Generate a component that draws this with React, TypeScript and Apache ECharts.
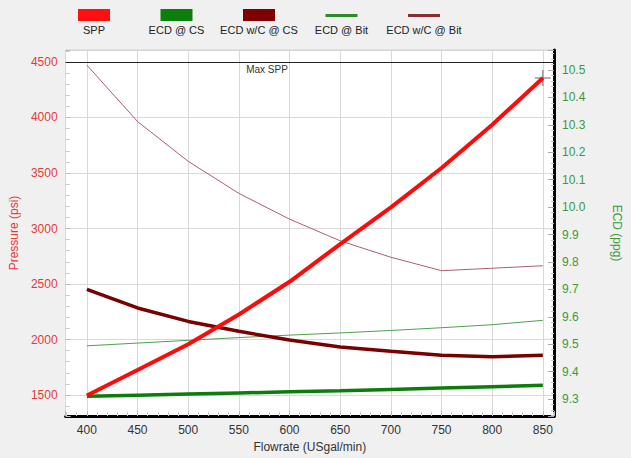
import React, { useEffect, useRef } from "react";
import * as echarts from "echarts";

const flowrate = [400, 450, 500, 550, 600, 650, 700, 750, 800, 850];
const spp = [1495, 1725, 1958, 2225, 2520, 2860, 3190, 3545, 3935, 4355];
const ecdCs = [9.31, 9.314, 9.318, 9.322, 9.326, 9.33, 9.335, 9.34, 9.345, 9.35];
const ecdWcCs = [9.7, 9.632, 9.583, 9.547, 9.515, 9.49, 9.474, 9.46, 9.454, 9.46];
const ecdBit = [9.494, 9.504, 9.514, 9.524, 9.533, 9.541, 9.55, 9.56, 9.571, 9.587];
const ecdWcBit = [10.518, 10.312, 10.167, 10.05, 9.956, 9.877, 9.817, 9.768, 9.777, 9.786];
const maxSpp = 4500;

const seriesNames = ["SPP", "ECD @ CS", "ECD w/C @ CS", "ECD @ Bit", "ECD w/C @ Bit"];
const seriesColors = ["#ff0a0a", "#0b7d0b", "#7a0000", "#4f9f4f", "#a8606e"];
const legendColors = ["#ff1010", "#0b7f0b", "#7f0000", "#2f8a2f", "#8b2a35"];
const seriesWidths = [4, 3.5, 3.5, 1, 1];

const FONT = "Liberation Sans, Arial, sans-serif";

export default function App() {
  const ref = useRef<HTMLDivElement>(null);
  useEffect(() => {
    if (!ref.current) return;
    const chart = echarts.init(ref.current, null, { renderer: "svg" });
    const pair = (ys: number[]) => flowrate.map((x, i) => [x, ys[i]]);
    const dataSets = [spp, ecdCs, ecdWcCs, ecdBit, ecdWcBit];
    const yIdx = [0, 1, 1, 1, 1];

    const legendGraphics: any[] = [];
    seriesNames.forEach((name, i) => {
      const cx = 94 + i * 82.5;
      const thick = i < 3;
      legendGraphics.push({
        type: "rect",
        shape: { x: cx - 16, y: thick ? 9 : 14, width: 32, height: thick ? 12 : 3 },
        style: { fill: legendColors[i] },
      });
      legendGraphics.push({
        type: "text",
        x: cx,
        y: 30,
        style: {
          text: name,
          align: "center",
          verticalAlign: "middle",
          fontSize: 11,
          fontFamily: FONT,
          fill: "#222",
        },
      });
    });
    legendGraphics.push({
      type: "text",
      x: 267,
      y: 69,
      style: {
        text: "Max SPP",
        align: "center",
        verticalAlign: "middle",
        fontSize: 10,
        fontFamily: FONT,
        fill: "#333",
      },
    });

    const series: any[] = [];
    const order = [4, 3, 1, 2, 0];
    order.forEach((i) => {
      const s: any = {
        name: seriesNames[i],
        type: "line",
        yAxisIndex: yIdx[i],
        data: pair(dataSets[i]),
        showSymbol: false,
        symbol: "none",
        lineStyle: { color: seriesColors[i], width: seriesWidths[i] },
        itemStyle: { color: seriesColors[i] },
        z: 3 + order.indexOf(i),
      };
      if (i === 0) {
        s.markLine = {
          silent: true,
          symbol: "none",
          label: { show: false },
          lineStyle: { color: "#222", width: 1, type: "solid" },
          data: [{ yAxis: maxSpp }],
        };
        s.markPoint = {
          silent: true,
          symbol: "path://M9.4,0H10.6V20H9.4ZM0,9.4H20V10.6H0Z",
          symbolSize: 16,
          itemStyle: { color: "#666" },
          label: { show: false },
          data: [{ coord: [flowrate[flowrate.length - 1], spp[spp.length - 1]] }],
        };
      }
      series.push(s);
    });

    const option: any = {
      animation: false,
      backgroundColor: "#f0f0f0",
      textStyle: { fontFamily: FONT },
      graphic: legendGraphics,
      grid: {
        left: 63,
        right: 67,
        top: 50,
        bottom: 42,
        show: true,
        backgroundColor: "#ffffff",
        borderColor: "#cfcfcf",
        borderWidth: 1,
        containLabel: false,
      },
      xAxis: {
        type: "value",
        min: 379,
        max: 861,
        splitNumber: 10,
        name: "Flowrate (USgal/min)",
        nameLocation: "middle",
        nameGap: 22,
        nameTextStyle: { color: "#333", fontSize: 12, fontFamily: FONT },
        axisLine: { show: true, onZero: false, lineStyle: { color: "#000", width: 3 } },
        axisTick: { show: true, inside: true, length: 5, lineStyle: { color: "#bbb" } },
        minorTick: { show: true, splitNumber: 5, length: 4, lineStyle: { color: "#ccc" } },
        axisLabel: {
          color: "#333",
          fontSize: 12,
          margin: 8,
          formatter: (v: number) => (Math.abs(v % 50) < 1e-6 ? String(v) : ""),
        },
        splitLine: { show: true, lineStyle: { color: "#d9d9d9", width: 1 } },
      },
      yAxis: [
        {
          type: "value",
          position: "left",
          min: 1311,
          max: 4608,
          splitNumber: 6,
          name: "Pressure (psi)",
          nameLocation: "middle",
          nameGap: 36,
          nameTextStyle: { color: "#e5393a", fontSize: 12, fontFamily: FONT },
          axisLine: { show: false },
          axisTick: { show: true, inside: true, length: 5, lineStyle: { color: "#bbb" } },
          minorTick: { show: true, splitNumber: 5, length: 4, lineStyle: { color: "#c8c8c8" } },
          axisLabel: {
            color: "#e5393a",
            fontSize: 12,
            margin: 8,
            formatter: (v: number) => (Math.abs(v % 500) < 1e-6 ? String(v) : ""),
          },
          splitLine: { show: true, lineStyle: { color: "#d9d9d9", width: 1 } },
        },
        {
          type: "value",
          position: "right",
          min: 9.238,
          max: 10.573,
          splitNumber: 13,
          alignTicks: false,
          name: "ECD (ppg)",
          nameLocation: "middle",
          nameGap: 57,
          nameRotate: -90,
          nameTextStyle: { color: "#3a9a3a", fontSize: 12, fontFamily: FONT },
          axisLine: { show: true, lineStyle: { color: "#000", width: 3 } },
          axisTick: { show: true, inside: true, length: 6, lineStyle: { color: "#aaa" } },
          minorTick: { show: true, splitNumber: 5, length: 3, lineStyle: { color: "#c8c8c8" } },
          axisLabel: {
            color: "#3a9a3a",
            fontSize: 12,
            margin: 8,
            formatter: (v: number) =>
              Math.abs(v * 10 - Math.round(v * 10)) < 1e-6 ? v.toFixed(1) : "",
          },
          splitLine: { show: false },
        },
      ],
      series,
    };
    chart.setOption(option);
    return () => chart.dispose();
  }, []);
  return (
    <div
      ref={ref}
      style={{ position: "fixed", left: 0, top: 0, width: 631, height: 458 }}
    />
  );
}
